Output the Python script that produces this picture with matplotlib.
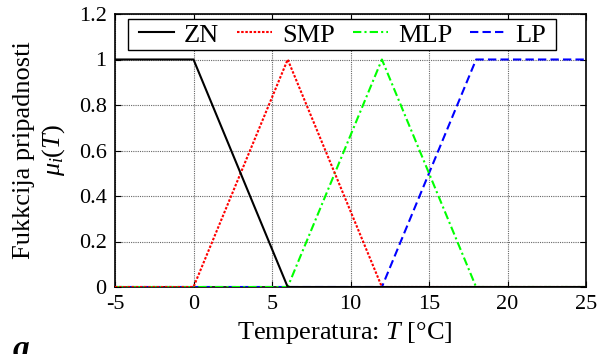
import numpy as np
import matplotlib.pyplot as plt
from matplotlib.patches import Rectangle

plt.rcParams['font.family'] = ['Liberation Serif', 'DejaVu Serif']
plt.rcParams['mathtext.fontset'] = 'custom'
plt.rcParams['mathtext.rm'] = 'Liberation Serif'
plt.rcParams['mathtext.it'] = 'Liberation Serif:italic'
plt.rcParams['axes.unicode_minus'] = False

# Membership functions (temperature breakpoints and memberships)
t_zn = [-5, 0, 6, 25]
mu_zn = [1, 1, 0, 0]
t_smp = [-5, 0, 6, 12, 25]
mu_smp = [0, 0, 1, 0, 0]
t_mlp = [-5, 6, 12, 18, 25]
mu_mlp = [0, 0, 1, 0, 0]
t_lp = [-5, 12, 18, 25]
mu_lp = [0, 0, 1, 1]

labels = ["ZN", "SMP", "MLP", "LP"]
xticks = [-5, 0, 5, 10, 15, 20, 25]
yticks = [0, 0.2, 0.4, 0.6, 0.8, 1, 1.2]
ytick_labels = ['0', '0.2', '0.4', '0.6', '0.8', '1', '1.2']

W, H = 598, 354
fig = plt.figure(figsize=(W / 100, H / 100), dpi=100)
ax = fig.add_axes([115 / W, 1 - 287 / H, 471 / W, 273 / H])

l4, = ax.plot(t_lp, mu_lp, color='b', ls=(0, (4, 2)), lw=1.5, zorder=3)
l3, = ax.plot(t_mlp, mu_mlp, color='#00ff00', ls=(0, (4, 1.5, 1, 1.5)), lw=1.5, zorder=4)
l2, = ax.plot(t_smp, mu_smp, color='r', ls=(0, (1.2, 0.8)), lw=1.5, zorder=5)
l1, = ax.plot(t_zn, mu_zn, color='k', ls='-', lw=1.5, zorder=6)

ax.set_xlim(-5, 25)
ax.set_ylim(0, 1.2)
ax.set_xticks(xticks)
ax.set_yticks(yticks)
ax.set_yticklabels(ytick_labels)
ax.tick_params(direction='in', top=True, right=True, labelsize=16, length=4, pad=6)
ax.grid(True, ls=(0, (1, 1)), color='#666666', lw=0.8)
for s in ax.spines.values():
    s.set_linewidth(1.2)

ax.set_xlabel('Temperatura: $T$ [°C]', fontsize=19)
ax.xaxis.set_label_coords(0.487, -0.12)

fig.text(40 / W, 1 - 150 / H, 'Fukkcija pripadnosti\n$\\mu_i(T)$', rotation=90,
         ha='center', va='center', multialignment='center', fontsize=19, linespacing=1.3)

# legend without frame, box drawn separately
leg = fig.legend([l1, l2, l3, l4], labels, ncol=4, loc='center left',
                 bbox_to_anchor=(139 / W, 1 - 35 / H), bbox_transform=fig.transFigure,
                 fontsize=19, frameon=False, handlelength=1.33, handletextpad=0.38,
                 columnspacing=0.68, borderpad=0, borderaxespad=0)
fig.add_artist(Rectangle((128 / W, 1 - 50 / H), 428 / W, 31 / H, transform=fig.transFigure,
                         facecolor='white', edgecolor='k', lw=1.0, zorder=9))
leg.set_zorder(10)

fig.text(13 / W, 1 - 358 / H, 'a', fontsize=24, fontweight='bold', style='italic')

fig.savefig('out.png', dpi=100)
